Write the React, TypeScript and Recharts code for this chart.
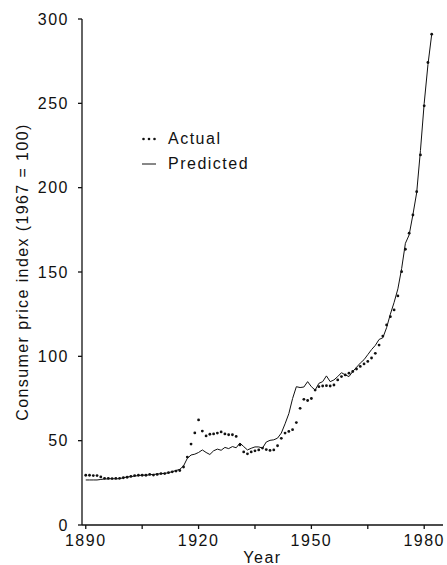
import { LineChart, Line, XAxis, YAxis } from "recharts";

const firstYear = 1890;

// Consumer price index (1967 = 100), annual, 1890–1982
const actual = [
  29.5, 29.5, 29.3, 29.3, 28.5, 27.7, 27.7, 27.5, 27.7, 27.7,
  28.0, 28.3, 28.8, 29.3, 29.5, 29.5, 29.5, 30.0, 29.6, 30.0,
  30.5, 30.5, 31.0, 31.5, 32.0, 32.3, 34.4, 40.3, 48.0, 54.6,
  62.3, 55.7, 52.8, 53.8, 54.0, 54.5, 55.2, 54.0, 53.5, 53.5,
  52.5, 47.5, 43.3, 42.2, 43.3, 44.0, 44.5, 45.6, 44.7, 44.2,
  44.5, 47.0, 51.4, 54.5, 55.5, 56.5, 60.7, 69.2, 74.5, 73.8,
  75.0, 80.0, 82.0, 82.4, 82.6, 82.4, 83.0, 86.0, 88.0, 89.0,
  90.0, 91.0, 92.5, 94.0, 95.5, 97.0, 99.0, 101.8, 106.7, 112.0,
  118.6, 123.5, 127.5, 135.8, 150.2, 163.5, 173.0, 183.8, 197.6, 219.4,
  248.5, 274.2, 291.0,
];

const predicted = [
  26.7, 26.7, 26.7, 26.7, 27.0, 27.3, 27.3, 27.5, 27.3, 27.5,
  28.0, 28.5, 28.7, 29.0, 29.3, 29.6, 29.5, 29.8, 30.0, 30.2,
  30.4, 30.6, 31.0, 31.6, 32.3, 33.0, 35.0, 39.5, 41.5, 42.0,
  43.0, 44.5, 43.0, 41.8, 44.0, 45.0, 44.3, 46.0, 45.3, 46.5,
  45.8, 48.6, 46.5, 44.5, 45.5, 46.3, 46.3, 45.6, 49.2, 50.2,
  50.5, 51.5, 54.5, 60.0, 66.0, 75.0, 82.0, 81.5, 81.8, 85.0,
  82.0, 80.0, 84.0, 85.0, 88.4, 85.0, 86.0, 88.0, 90.3, 89.0,
  88.0, 91.0, 93.5, 96.0, 98.0, 101.0, 104.0, 106.5, 110.0, 111.0,
  117.0, 125.0, 132.0, 140.0, 152.0, 167.0, 172.0, 184.0, 197.0, 222.0,
  250.0, 273.0, 291.0,
];

const xTicks = [1890, 1905, 1920, 1935, 1950, 1965, 1980];
const yTicks = [0, 50, 100, 150, 200, 250, 300];

const data = actual.map((a, i) => ({
  year: firstYear + i,
  actual: a,
  predicted: predicted[i],
}));

const font = "'Liberation Sans', Arial, Helvetica, sans-serif";
const tickStyle = { fontSize: 16, fill: "#111", fontFamily: font, letterSpacing: 1.5 };

function LegendBox() {
  const row = { display: "flex", alignItems: "center", height: 25 };
  const text = { fontFamily: font, fontSize: 16, letterSpacing: 1.5, color: "#111", marginLeft: 12 };
  return (
    <div style={{ position: "absolute", top: 126, left: 142 }}>
      <div style={row}>
        <svg width={14} height={10}>
          <circle cx={1.5} cy={5} r={1.3} fill="#111" />
          <circle cx={7} cy={5} r={1.3} fill="#111" />
          <circle cx={12.5} cy={5} r={1.3} fill="#111" />
        </svg>
        <span style={text}>Actual</span>
      </div>
      <div style={row}>
        <svg width={14} height={10}>
          <line x1={0} x2={14} y1={5} y2={5} stroke="#111" strokeWidth={1} />
        </svg>
        <span style={text}>Predicted</span>
      </div>
    </div>
  );
}

export default function App() {
  return (
    <div style={{ position: "absolute", left: 0, top: 0, width: 447, height: 565, background: "#fff" }}>
      <LineChart
        width={447}
        height={565}
        data={data}
        margin={{ top: 19, right: 4, bottom: 0, left: 0 }}
      >
        <XAxis
          dataKey="year"
          type="number"
          domain={[1889, 1985]}
          ticks={xTicks}
          tickFormatter={(v) => (v % 30 === 0 ? String(v) : "")}
          tickSize={4}
          tickMargin={6}
          height={40}
          stroke="#111"
          strokeWidth={1.3}
          tick={tickStyle}
          label={{
            content: (p: any) => {
              const vb = p.viewBox;
              return (
                <text
                  x={vb.x + vb.width / 2}
                  y={563}
                  textAnchor="middle"
                  style={{ fontSize: 16, fill: "#111", fontFamily: font, letterSpacing: 1.5 }}
                >
                  Year
                </text>
              );
            },
          }}
        />
        <YAxis
          type="number"
          domain={[0, 300]}
          ticks={yTicks}
          width={82}
          tickSize={4}
          tickMargin={9}
          stroke="#111"
          strokeWidth={1.3}
          tick={tickStyle}
          label={{
            content: (p: any) => {
              const vb = p.viewBox;
              const cy = vb.y + vb.height / 2;
              return (
                <text
                  x={22}
                  y={cy}
                  transform={`rotate(-90 22 ${cy})`}
                  textAnchor="middle"
                  dominantBaseline="central"
                  style={{ fontSize: 16, fill: "#111", fontFamily: font, letterSpacing: 1.4 }}
                >
                  Consumer price index (1967 = 100)
                </text>
              );
            },
          }}
        />
        <Line
          dataKey="predicted"
          type="linear"
          stroke="#111"
          strokeWidth={1}
          dot={false}
          activeDot={false}
          isAnimationActive={false}
        />
        <Line
          dataKey="actual"
          type="linear"
          stroke="none"
          dot={{ r: 1.4, fill: "#111", stroke: "none" }}
          activeDot={false}
          isAnimationActive={false}
        />
      </LineChart>
      <LegendBox />
    </div>
  );
}
